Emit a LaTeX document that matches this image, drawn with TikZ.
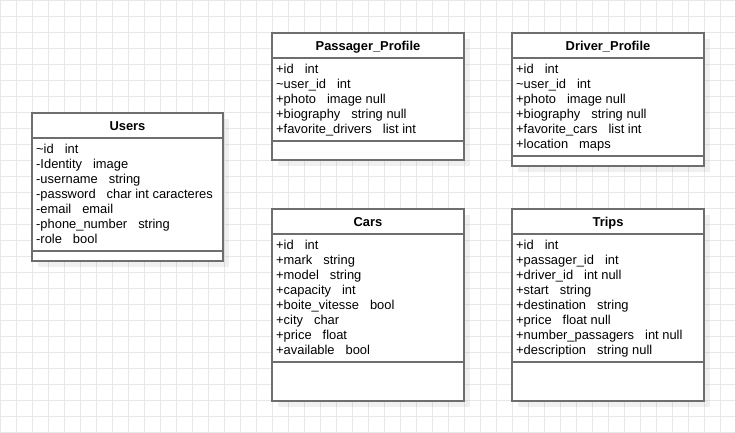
\documentclass[tikz,border=0pt]{standalone}
\usepackage{fontspec}
\setmainfont{Liberation Sans}
\definecolor{umlgray}{RGB}{110,110,110}
\definecolor{gridgray}{RGB}{232,232,232}
\tikzset{
  classbox/.style={line width=1.8pt,draw=umlgray},
  classshadow/.style={fill=black,fill opacity=0.06,draw=none},
  classtitle/.style={anchor=base,inner sep=0pt,font=\bfseries\fontsize{12.9}{15}\selectfont},
  classattr/.style={anchor=north west,inner sep=0pt,align=left,font=\fontsize{12.9}{15}\selectfont},
  gridline/.style={draw=gridgray,line width=1pt},
}
\newcommand{\tp}{\hspace{11pt}}

\begin{document}
\begin{tikzpicture}[x=1pt,y=-1pt]
      \useasboundingbox (0,0) rectangle (735,432);
      \fill[white] (0,0) rectangle (735,432);
      \draw[gridline] (0,0) grid[step=16pt] (735,432);
      % Users
      \fill[classshadow] (38,119) rectangle (229,267);
      \draw[classbox,fill=white] (32,113) rectangle (223,261);
      \draw[classbox] (32,138) -- (223,138);
      \draw[classbox] (32,251) -- (223,251);
      \node[classtitle] (users) at (127.5,130) {Users};
      \node[classattr] (usersattr) at (36,143) {\strut\textasciitilde id\tp int\\-Identity\tp image\\-username\tp string\\-password\tp char int caracteres\\-email\tp email\\-phone\_number\tp string\\-role\tp bool};
      % Passager_Profile
      \fill[classshadow] (278,39) rectangle (470,166);
      \draw[classbox,fill=white] (272,33) rectangle (464,160);
      \draw[classbox] (272,58) -- (464,58);
      \draw[classbox] (272,141) -- (464,141);
      \node[classtitle] (passager) at (368,50) {Passager\_Profile};
      \node[classattr] (passagerattr) at (276,63) {\strut+id\tp int\\\textasciitilde user\_id\tp int\\+photo\tp image null\\+biography\tp string null\\+favorite\_drivers\tp list int};
      % Driver_Profile
      \fill[classshadow] (518,39) rectangle (710,172);
      \draw[classbox,fill=white] (512,33) rectangle (704,166);
      \draw[classbox] (512,58) -- (704,58);
      \draw[classbox] (512,156) -- (704,156);
      \node[classtitle] (driver) at (608,50) {Driver\_Profile};
      \node[classattr] (driverattr) at (516,63) {\strut+id\tp int\\\textasciitilde user\_id\tp int\\+photo\tp image null\\+biography\tp string null\\+favorite\_cars\tp list int\\+location\tp maps};
      % Cars
      \fill[classshadow] (278,215) rectangle (470,407);
      \draw[classbox,fill=white] (272,209) rectangle (464,401);
      \draw[classbox] (272,234) -- (464,234);
      \draw[classbox] (272,362) -- (464,362);
      \node[classtitle] (cars) at (368,226) {Cars};
      \node[classattr] (carsattr) at (276,239) {\strut+id\tp int\\+mark\tp string\\+model\tp string\\+capacity\tp int\\+boite\_vitesse\tp bool\\+city\tp char\\+price\tp float\\+available\tp bool};
      % Trips
      \fill[classshadow] (518,215) rectangle (710,407);
      \draw[classbox,fill=white] (512,209) rectangle (704,401);
      \draw[classbox] (512,234) -- (704,234);
      \draw[classbox] (512,362) -- (704,362);
      \node[classtitle] (trips) at (608,226) {Trips};
      \node[classattr] (tripsattr) at (516,239) {\strut+id\tp int\\+passager\_id\tp int\\+driver\_id\tp int null\\+start\tp string\\+destination\tp string\\+price\tp float null\\+number\_passagers\tp int null\\+description\tp string null};
\end{tikzpicture}
\end{document}
